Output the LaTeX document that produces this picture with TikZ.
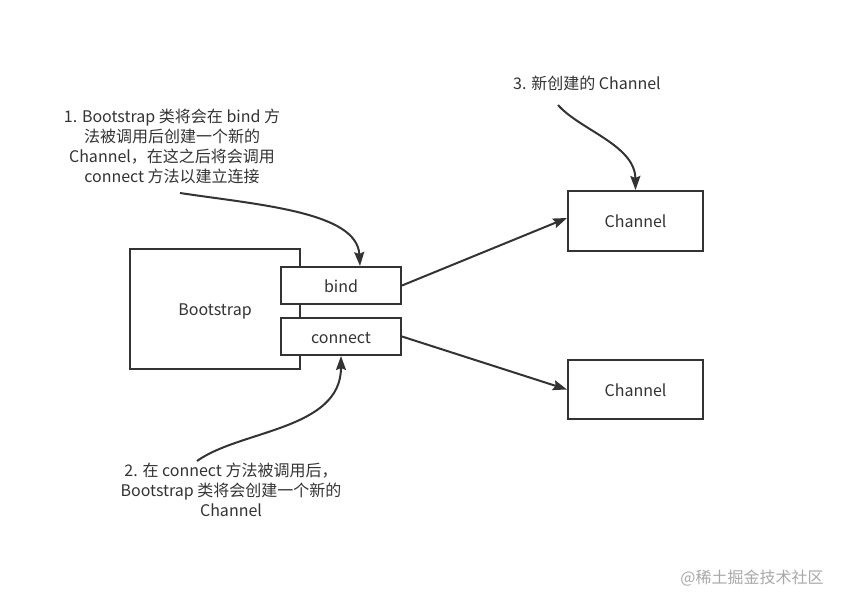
\documentclass[tikz,border=0pt]{standalone}
\usepackage{fontspec}
\setmainfont{Noto Sans CJK SC}
\usetikzlibrary{arrows.meta}
\definecolor{ink}{HTML}{333333}
\definecolor{mark}{HTML}{A8A8A8}
\tikzset{
  box/.style={draw=ink, line width=2pt, fill=white, text=ink, inner sep=0pt,
    text height=16pt, text depth=3pt, font=\fontsize{16}{20}\selectfont},
  note/.style={text=ink, align=center, inner sep=0pt, font=\fontsize{16}{20}\selectfont},
  link/.style={draw=ink, line width=2pt, -{Stealth[length=14pt,width=10pt,inset=2pt]}}
}
\begin{document}
\begin{tikzpicture}[x=1pt,y=-1pt]
  \useasboundingbox (0,0) rectangle (850,607);
  % boxes
  \node [box, minimum width=170pt, minimum height=120pt] (boot) at (215,309) {Bootstrap};
  \node [box, minimum width=120pt, minimum height=37pt] (bind) at (341,285.5) {bind};
  \node [box, minimum width=120pt, minimum height=37pt] (connect) at (341,336.5) {connect};
  \node [box, minimum width=135pt, minimum height=60pt] (chan1) at (635.5,221) {Channel};
  \node [box, minimum width=135pt, minimum height=59pt] (chan2) at (635.5,389.5) {Channel};
  % notes
  \node [note] (note1) at (172,146) {1. Bootstrap 类将会在 bind 方\\法被调用后创建一个新的\\Channel，在这之后将会调用\\connect 方法以建立连接};
  \node [note] (note2) at (231,490) {2. 在 connect 方法被调用后，\\Bootstrap 类将会创建一个新的\\Channel};
  \node [note] (note3) at (587,83) {3. 新创建的 Channel};
  \node [text=mark, inner sep=0pt, font=\fontsize{16}{18}\selectfont] (stamp) at (752,578) {@稀土掘金技术社区};
  % arrow ends
  \coordinate (from1) at (180,193);
  \coordinate (from2) at (197,461);
  \coordinate (from3) at (558,105);
  % connectors
  \draw [link] (bind.east) -- ([yshift=3pt]chan1.west);
  \draw [link] (connect.east) -- (chan2.west);
  \draw [link] (from1) .. controls (260,205) and (357,212) .. ([xshift=19pt]bind.north);
  \draw [link] (from2) .. controls (240,430) and (341,430) .. (connect.south);
  \draw [link] (from3) .. controls (580,130) and (635,145) .. (chan1.north);
\end{tikzpicture}
\end{document}
